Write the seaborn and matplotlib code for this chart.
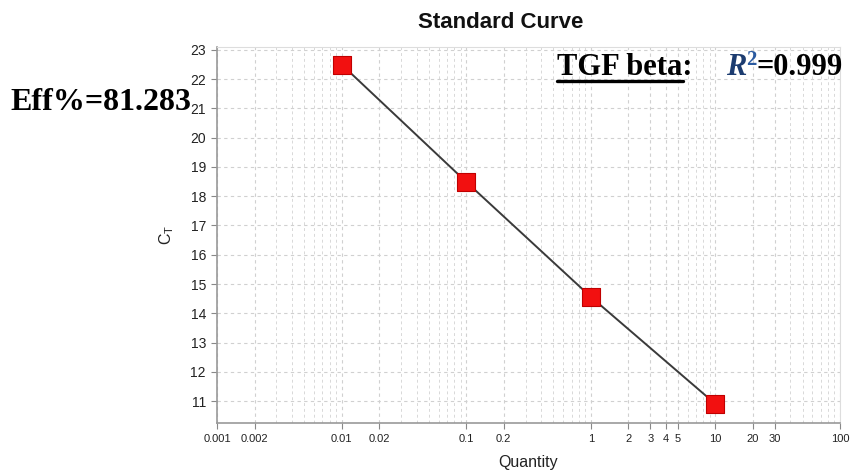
import numpy as np
import pandas as pd
import matplotlib
matplotlib.use("Agg")
import matplotlib.pyplot as plt
import seaborn as sns
from matplotlib.lines import Line2D

# ---- data ----
quantity = [0.01, 0.1, 1, 10]
ct_values = [22.50, 18.49, 14.56, 10.90]
xtick_vals = [0.001, 0.002, 0.01, 0.02, 0.1, 0.2, 1, 2, 3, 4, 5, 10, 20, 30, 100]
xtick_labels = ["0.001", "0.002", "0.01", "0.02", "0.1", "0.2", "1", "2", "3", "4", "5", "10", "20", "30", "100"]
ytick_vals = list(range(11, 24))
title = "Standard Curve"
eff_text = "Eff%=81.283"
gene_text = "TGF beta:"
r2_letter = "R"
r2_sup = "2"
r2_text = "=0.999"

df = pd.DataFrame({"Quantity": quantity, "CT": ct_values})

sns.set_theme(style="white")
plt.rcParams["font.family"] = ["Liberation Sans", "DejaVu Sans"]

fig = plt.figure(figsize=(8.52, 4.73), dpi=100)
ax = fig.add_axes([0.2547, 0.1057, 0.7313, 0.795])

ax.set_xscale("log")
ax.set_xlim(0.001, 100)
ax.set_ylim(10.25, 23.1)

# grid
ax.grid(True, which="major", axis="both", color="#d0d0d0", linestyle=(0, (3, 3)), linewidth=0.8)
ax.grid(True, which="minor", axis="x", color="#d8d8d8", linestyle=(0, (3, 3)), linewidth=0.7)
ax.set_axisbelow(True)

sns.lineplot(data=df, x="Quantity", y="CT", ax=ax, color="#3a3a3a", linewidth=1.4, zorder=2)
sns.scatterplot(data=df, x="Quantity", y="CT", ax=ax, marker="s", s=150, color="#f21010",
                edgecolor="#c00000", linewidth=0.8, zorder=3)

ax.set_xticks(xtick_vals)
ax.set_xticklabels(xtick_labels, fontsize=8)
ax.xaxis.set_minor_locator(matplotlib.ticker.LogLocator(base=10, subs=np.arange(2, 10)))
ax.xaxis.set_minor_formatter(matplotlib.ticker.NullFormatter())
ax.set_yticks(ytick_vals)
ax.set_yticklabels([str(v) for v in ytick_vals], fontsize=10)
ax.tick_params(axis="both", which="major", length=4, width=0.8, color="#888888", direction="out",
               bottom=True, left=True, labelcolor="#222222", pad=4)
ax.tick_params(axis="x", which="minor", length=0, bottom=False)

for side in ["left", "bottom"]:
    ax.spines[side].set_color("#999999")
    ax.spines[side].set_linewidth(1.2)
for side in ["top", "right"]:
    ax.spines[side].set_color("#dddddd")
    ax.spines[side].set_linewidth(0.8)

ax.set_xlabel("Quantity", fontsize=11.5, color="#222222", labelpad=8)
ax.set_ylabel(r"C$\mathregular{_T}$", fontsize=11.5, color="#222222", labelpad=10)

fig.text(501 / 852, 1 - 22 / 473, title, ha="center", va="center", fontsize=16, fontweight="bold",
         color="#111111")

serif = ["Liberation Serif", "DejaVu Serif"]
fig.text(10 / 852, 1 - 102 / 473, eff_text, ha="left", va="center", fontsize=23, fontweight="bold",
         family=serif, color="black")
gt = fig.text(557 / 852, 1 - 67 / 473, gene_text, ha="left", va="center", fontsize=22, fontweight="bold",
              family=serif, color="black")
fig.text(726 / 852, 1 - 67 / 473, r2_letter, ha="left", va="center", fontsize=22, fontweight="bold",
         style="italic", family=serif, color="#1c3c70")
fig.text(746 / 852, 1 - 60 / 473, r2_sup, ha="left", va="center", fontsize=15, fontweight="bold",
         family=serif, color="#2a5aa0")
fig.text(757 / 852, 1 - 67 / 473, r2_text, ha="left", va="center", fontsize=22, fontweight="bold",
         family=serif, color="black")

fig.canvas.draw()
bb = gt.get_window_extent(renderer=fig.canvas.get_renderer())
inv = fig.transFigure.inverted()
(x0, y0), (x1, y1) = inv.transform([(bb.x0, bb.y0), (bb.x1, bb.y0)])
fig.add_artist(Line2D([x0, x1 - 10 / 852], [y0 + 1 / 473, y0 + 1 / 473], transform=fig.transFigure,
                      color="black", linewidth=2.4))

fig.savefig("out.png", dpi=100)
